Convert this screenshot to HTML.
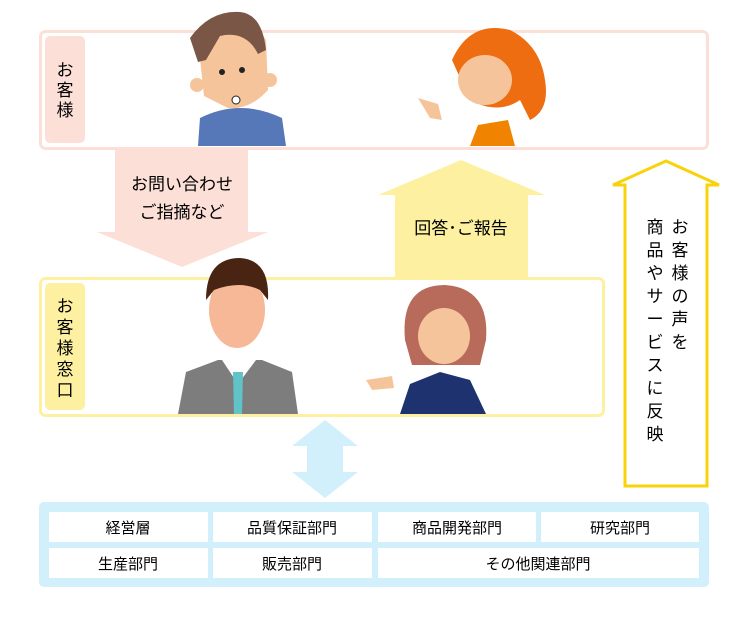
<!DOCTYPE html>
<html><head><meta charset="utf-8"><style>
body{margin:0;background:#fff;width:748px;height:618px;overflow:hidden;font-family:"Liberation Sans","Noto Sans CJK JP",sans-serif}
</style></head><body>
<svg width="748" height="618" xmlns="http://www.w3.org/2000/svg" font-family="Liberation Sans, Noto Sans CJK JP, sans-serif">
<rect x="40.5" y="31.5" width="667" height="117" rx="5" fill="#fff" stroke="#fce0d8" stroke-width="3"/>
<rect x="45" y="36" width="40" height="107" rx="5" fill="#fce0d8"/>
<text x="65" y="76" font-size="17" text-anchor="middle">お</text>
<text x="65" y="96" font-size="17" text-anchor="middle">客</text>
<text x="65" y="116" font-size="17" text-anchor="middle">様</text>
<path d="M198 146 L200 118 Q240 98 282 118 L286 146Z" fill="#5677b8"/>
<path d="M198 40 L218 20 L240 12 L258 28 L266 40 L268 90 Q250 110 228 108 L204 96Z" fill="#f6c49a"/>
<path d="M190 38 Q210 10 240 12 Q262 14 266 50 L258 54 Q246 30 220 36 L206 60 L198 62Z" fill="#7a5646"/>
<circle cx="197" cy="85" r="7" fill="#f6c49a"/><circle cx="270" cy="80" r="7" fill="#f6c49a"/>
<circle cx="222" cy="72" r="3" fill="#222"/><circle cx="242" cy="70" r="3" fill="#222"/>
<circle cx="236" cy="100" r="4" fill="#fff" stroke="#222"/>
<path d="M470 146 L478 125 L508 120 L515 146Z" fill="#f08300"/>
<path d="M452 60 Q470 20 510 30 Q540 45 545 80 Q550 110 530 120 L520 100 Q498 115 470 100Z" fill="#ee6d10"/>
<ellipse cx="485" cy="80" rx="27" ry="25" fill="#f6c49a"/>
<path d="M418 98 L438 104 L442 120 L430 118Z" fill="#f6c49a"/>
<polygon points="115,150 248,150 248,232 268,232 182,267 97,232 115,232" fill="#fce0d8"/>
<text x="182" y="190" font-size="17" text-anchor="middle">お問い合わせ</text>
<text x="182" y="218" font-size="17" text-anchor="middle">ご指摘など</text>
<polygon points="461,160 545,195 528,195 528,278 395,278 395,195 378,195" fill="#fdf0a0"/>
<text x="461" y="234" font-size="17" text-anchor="middle">回答･ご報告</text>
<rect x="40.5" y="278.5" width="563" height="137" rx="5" fill="none" stroke="#fdf0a0" stroke-width="3"/>
<rect x="45" y="283" width="40" height="127" rx="5" fill="#fdf0a0"/>
<text x="65" y="312" font-size="17" text-anchor="middle">お</text>
<text x="65" y="333" font-size="17" text-anchor="middle">客</text>
<text x="65" y="354" font-size="17" text-anchor="middle">様</text>
<text x="65" y="375" font-size="17" text-anchor="middle">窓</text>
<text x="65" y="396" font-size="17" text-anchor="middle">口</text>
<path d="M178 414 L186 372 L218 360 L262 360 L292 372 L298 414Z" fill="#7d7d7d"/>
<path d="M222 360 L238 384 L256 360Z" fill="#fff"/>
<path d="M233 372 L243 372 L242 414 L234 414Z" fill="#5fc3c8"/>
<ellipse cx="237" cy="310" rx="28" ry="38" fill="#f6b896"/>
<path d="M206 300 Q206 258 240 258 Q270 260 268 300 L260 290 Q240 280 214 290Z" fill="#4a2413"/>
<path d="M400 414 L410 384 L440 372 L470 380 L486 414Z" fill="#1f3270"/>
<path d="M405 340 Q400 285 445 285 Q490 288 486 340 L480 365 L412 365Z" fill="#b86b5a"/>
<ellipse cx="444" cy="336" rx="26" ry="28" fill="#f6c49a"/>
<path d="M366 380 L392 376 L394 388 L372 390Z" fill="#f6c49a"/>
<polygon points="666,161 719,185 707,185 707,486 625,486 625,185 613,185" fill="#fff" stroke="#f8d20a" stroke-width="3" stroke-linejoin="miter"/>
<g font-size="17" text-anchor="middle">
<text x="680" y="233">お</text><text x="680" y="256">客</text><text x="680" y="279">様</text><text x="680" y="302">の</text><text x="680" y="325">声</text><text x="680" y="348">を</text>
<text x="655" y="233">商</text><text x="655" y="256">品</text><text x="655" y="279">や</text><text x="655" y="302">サ</text><text x="655" y="325">ー</text><text x="655" y="348">ビ</text><text x="655" y="371">ス</text><text x="655" y="394">に</text><text x="655" y="417">反</text><text x="655" y="440">映</text>
</g>
<polygon points="325,420 358,446 343,446 343,472 358,472 325,498 292,472 307,472 307,446 292,446" fill="#d2f0fb"/>
<rect x="39" y="502" width="670" height="85" rx="5" fill="#d2f0fb"/>
<g fill="#fff">
<rect x="49" y="512" width="159" height="30"/><rect x="213" y="512" width="159" height="30"/><rect x="378" y="512" width="158" height="30"/><rect x="541" y="512" width="158" height="30"/>
<rect x="49" y="548" width="159" height="30"/><rect x="213" y="548" width="159" height="30"/><rect x="378" y="548" width="321" height="30"/>
</g>
<g font-size="15" text-anchor="middle">
<text x="128" y="533">経営層</text><text x="292" y="533">品質保証部門</text><text x="457" y="533">商品開発部門</text><text x="620" y="533">研究部門</text>
<text x="128" y="569">生産部門</text><text x="292" y="569">販売部門</text><text x="538" y="569">その他関連部門</text>
</g>
</svg>
</body></html>
